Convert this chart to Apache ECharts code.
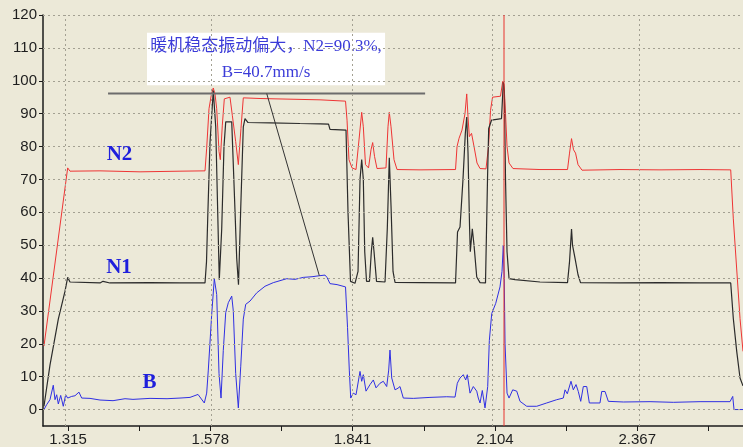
<!DOCTYPE html>
<html>
<head>
<meta charset="utf-8">
<script src="https://cdn.jsdelivr.net/npm/echarts@6/dist/echarts.min.js"></script>
<style>
  html, body { margin: 0; padding: 0; background: #ECE9D8; }
  #chart { width: 743px; height: 447px; }
</style>
</head>
<body>
<div id="chart"></div>
<script>
// Engine run-up record: N2 (%), N1 (%), vibration B (mm/s) against time.
const n2Time = [1.2706, 1.3144, 1.3187, 1.3741, 1.4481, 1.5220, 1.5682, 1.5713, 1.5756, 1.5802,
  1.5835, 1.5867, 1.5898, 1.5941, 1.5965, 1.6002, 1.6039, 1.6144, 1.6187, 1.6249,
  1.6298, 1.6347, 1.6390, 1.6699, 1.7253, 1.7808, 1.8279, 1.8307, 1.8343, 1.8399,
  1.8473, 1.8528, 1.8578, 1.8608, 1.8648, 1.8704, 1.8750, 1.8781, 1.8815, 1.8861,
  1.9027, 1.9064, 1.9088, 1.9120, 1.9175, 1.9231, 1.9656, 2.0312, 2.0340, 2.0377,
  2.0432, 2.0487, 2.0519, 2.0543, 2.0567, 2.0608, 2.0654, 2.0709, 2.0765, 2.0875,
  2.0922, 2.0959, 2.0996, 2.1143, 2.1184, 2.1208, 2.1236, 2.1264, 2.1301, 2.1374,
  2.1873, 2.2382, 2.2419, 2.2456, 2.2493, 2.2530, 2.2576, 2.2650, 2.3352, 2.4091,
  2.4831, 2.5398, 2.5446, 2.5570, 2.5625];
const n2Values = [19.3, 73.5, 72.5, 72.6, 72.3, 72.5, 72.6, 79.5, 91.5, 96,
  97.8, 96, 91.5, 78.5, 76, 86.5, 94.5, 95, 89.5, 81.5,
  74.5, 85.5, 94.8, 94.6, 94.4, 94.2, 93.8, 88, 76, 73.5,
  73, 82, 90.4, 86, 74.5, 73.5, 79, 81.2, 77, 73.3,
  73.5, 86, 90.4, 86, 76, 73, 72.9, 73, 80, 82.5,
  85, 90, 96, 89, 83, 84, 80, 75, 73.3, 73.2,
  80, 91, 95, 95.3, 99.8, 99, 90, 80, 75, 73.3,
  73, 73, 78, 82.4, 79, 78, 74.5, 72.8, 73, 72.9,
  73, 72.9, 58, 27.7, 17.7];

const n1Time = [1.2706, 1.2817, 1.2971, 1.3095, 1.3144, 1.3187, 1.3741, 1.3797, 1.3926, 1.4666,
  1.5220, 1.5682, 1.5710, 1.5732, 1.5774, 1.5835, 1.5880, 1.5917, 1.5946, 1.5991,
  1.6033, 1.6065, 1.6176, 1.6224, 1.6268, 1.6301, 1.6342, 1.6390, 1.6421, 1.6477,
  1.6883, 1.7438, 1.7808, 1.7965, 1.7992, 1.8288, 1.8325, 1.8371, 1.8454, 1.8510,
  1.8547, 1.8578, 1.8608, 1.8634, 1.8667, 1.8722, 1.8756, 1.8781, 1.8806, 1.8852,
  1.9009, 1.9051, 1.9088, 1.9120, 1.9157, 1.9194, 1.9656, 2.0312, 2.0349, 2.0395,
  2.0450, 2.0493, 2.0519, 2.0543, 2.0571, 2.0585, 2.0622, 2.0654, 2.0704, 2.0765,
  2.0866, 2.0903, 2.0925, 2.0977, 2.1162, 2.1195, 2.1214, 2.1236, 2.1264, 2.1301,
  2.1412, 2.1873, 2.2382, 2.2419, 2.2456, 2.2474, 2.2521, 2.2576, 2.2622, 2.3352,
  2.4091, 2.4831, 2.5398, 2.5446, 2.5509, 2.5570, 2.5625];
const n1Values = [1, 13.5, 27.5, 36, 40.2, 38.8, 38.5, 39.0, 38.5, 38.6,
  38.5, 38.5, 45, 58, 81, 97, 86, 60, 39.5, 55,
  80, 87.5, 87.5, 66, 46, 38, 61, 86, 88.5, 87.3,
  87.2, 87.0, 86.9, 86.8, 85.2, 85, 60, 39, 38.4, 42,
  70, 76, 70, 48, 39, 39, 48, 52.4, 48, 39,
  38.8, 55, 76.6, 62, 42, 38.7, 38.6, 38.5, 54, 55.5,
  70, 84, 89, 78, 56, 48, 55, 50, 40.3, 38.6,
  38.5, 70, 85.5, 88, 88.5, 99.5, 97, 70, 48, 39.8,
  39.5, 38.8, 38.6, 45, 54.9, 50, 46, 41, 38.6, 38.5,
  38.6, 38.5, 38.5, 27.7, 17.7, 9.6, 7.2];

const bTime = [1.2706, 1.2756, 1.2817, 1.2878, 1.2910, 1.2941, 1.2971, 1.3015, 1.3063, 1.3107,
  1.3144, 1.3218, 1.3279, 1.3353, 1.3403, 1.3557, 1.3741, 1.3982, 1.4204, 1.4351,
  1.4666, 1.4980, 1.5220, 1.5405, 1.5553, 1.5669, 1.5713, 1.5743, 1.5806, 1.5854,
  1.5898, 1.5941, 1.5978, 1.6020, 1.6065, 1.6113, 1.6176, 1.6205, 1.6249, 1.6298,
  1.6342, 1.6390, 1.6434, 1.6514, 1.6638, 1.6791, 1.6944, 1.7192, 1.7345, 1.7499,
  1.7660, 1.7795, 1.7900, 1.7937, 1.7992, 1.8122, 1.8279, 1.8316, 1.8349, 1.8375,
  1.8423, 1.8473, 1.8547, 1.8578, 1.8608, 1.8658, 1.8732, 1.8793, 1.8843, 1.8916,
  1.8977, 1.9040, 1.9077, 1.9101, 1.9133, 1.9194, 1.9249, 1.9286, 1.9347, 1.9532,
  1.9840, 2.0149, 2.0303, 2.0345, 2.0395, 2.0456, 2.0500, 2.0530, 2.0580, 2.0641,
  2.0704, 2.0733, 2.0765, 2.0807, 2.0857, 2.0907, 2.0937, 2.0981, 2.1055, 2.1134,
  2.1171, 2.1195, 2.1212, 2.1227, 2.1264, 2.1301, 2.1369, 2.1443, 2.1504, 2.1628,
  2.1813, 2.1997, 2.2182, 2.2304, 2.2336, 2.2378, 2.2446, 2.2489, 2.2539, 2.2581,
  2.2626, 2.2674, 2.2737, 2.2785, 2.2982, 2.3014, 2.3075, 2.3136, 2.3413, 2.3907,
  2.4337, 2.4831, 2.5385, 2.5435, 2.5459, 2.5625];
const bValues = [0, 1.5, 3, 7.4, 3, 4.5, 1.7, 4.3, 1, 4.5,
  3.5, 4, 4.2, 5.3, 3.5, 3.4, 2.9, 2.7, 3.3, 3.1,
  3.4, 3.3, 3.5, 3.7, 4.6, 2, 5, 12, 29, 39.8,
  35, 11, 3.5, 18, 29.5, 32.5, 34.5, 30, 11, 0.5,
  13, 27.5, 32, 33, 35.5, 37.5, 38.6, 39.8, 39.6, 40.2,
  40.4, 40.7, 40.9, 40.2, 38.3, 38, 37.3, 25, 12, 3.5,
  5, 4.5, 11.6, 8.6, 10.6, 5.6, 7.6, 9, 6.6, 8,
  8.6, 7, 12, 18.1, 9.6, 6, 6.5, 7, 3.5, 3.4,
  3.7, 3.9, 3.8, 8, 9.6, 10.6, 9, 10.6, 5, 7,
  5.6, 3.5, 2, 5.8, 0.5, 7, 21, 29.2, 32.3, 37.3,
  42, 50, 40, 20, 5, 3.5, 6, 5.6, 2.5, 1,
  1, 2, 3, 3.5, 6, 4.8, 8.6, 6, 7.6, 5.5,
  2.5, 7, 7, 2, 2, 5.5, 5.5, 2.5, 2.3, 2.4,
  2.2, 2.4, 2.4, 4, 0, 0];

// Axis ticks
const xLabelValues = [1.315, 1.578, 1.841, 2.104, 2.367];
const xTickValues = [1.315, 1.4465, 1.578, 1.7095, 1.841, 1.9725, 2.104, 2.2355, 2.367, 2.4985];
const yTickValues = [0, 10, 20, 30, 40, 50, 60, 70, 80, 90, 100, 110, 120];

// Cursor time and the note about the steady warm-up vibration
const cursorTime = 2.1208;
const noteLines = ['暖机稳态振动偏大，N2=90.3%,', 'B=40.7mm/s'];
const noteB = 40.7;

const Y_MIN = -5, Y_MAX = 120;
const zip = (t, v) => t.map((x, i) => [x, v[i]]);
const serif = '"Liberation Serif", "Times New Roman", "Noto Sans CJK SC", serif';
const sans = '"Liberation Sans", Arial, sans-serif';
const gridLine = { color: '#a3a092', type: [2, 3], width: 1 };
const axisInk = '#1b1b1b';

function tag(text, at) {
  return {
    silent: true,
    symbol: 'circle',
    symbolSize: 0,
    label: {
      show: true, position: 'inside', formatter: text,
      color: '#1f1fdc', fontFamily: serif, fontWeight: 'bold', fontSize: 21
    },
    data: [{ coord: at }]
  };
}

function trace(name, t, v, color, width, label, at) {
  return {
    name, type: 'line', data: zip(t, v), showSymbol: false, symbol: 'none',
    lineStyle: { color, width }, itemStyle: { color }, z: 3, silent: true,
    markPoint: tag(label, at)
  };
}

const chart = echarts.init(document.getElementById('chart'));
chart.setOption({
  animation: false,
  backgroundColor: '#ECE9D8',
  grid: { left: 43, right: 0, top: 15, bottom: 19 },
  xAxis: {
    type: 'value', min: 1.2688, max: 2.5625,
    axisLine: { show: true, onZero: false, lineStyle: { color: axisInk, width: 1.5 } },
    axisTick: { show: true, customValues: xTickValues, length: 5, lineStyle: { color: axisInk } },
    axisLabel: {
      customValues: xLabelValues, formatter: v => v.toFixed(3),
      color: '#1e1e1e', fontSize: 15, fontFamily: sans, margin: 6
    },
    splitLine: { show: false }
  },
  yAxis: {
    type: 'value', min: Y_MIN, max: Y_MAX,
    axisLine: { show: true, onZero: false, lineStyle: { color: axisInk, width: 1.5 } },
    axisTick: { show: true, customValues: yTickValues, length: 4, lineStyle: { color: axisInk } },
    axisLabel: {
      customValues: yTickValues, color: '#1e1e1e', fontSize: 15, fontFamily: sans, margin: 6
    },
    splitLine: { show: false }
  },
  series: [
    {
      name: 'grid', type: 'line', data: [], z: 1, silent: true,
      markLine: {
        silent: true, symbol: ['none', 'none'], label: { show: false }, lineStyle: gridLine,
        data: yTickValues.map(v => ({ yAxis: v })).concat(xLabelValues.map(v => ({ xAxis: v })))
      }
    },
    trace('N2', n2Time, n2Values, '#ee3434', 1, 'N2', [1.4102, 77.6]),
    trace('N1', n1Time, n1Values, '#2b2b2b', 1.2, 'N1', [1.4093, 43.2]),
    trace('B', bTime, bValues, '#2f2fe2', 1, 'B', [1.4656, 8.1]),
    {
      name: 'note', type: 'line', data: [], z: 5, silent: true,
      markArea: {
        silent: true,
        itemStyle: { color: '#ffffff' },
        label: {
          show: true, position: 'inside', formatter: noteLines.join('\n'),
          color: '#3b3bd8', fontFamily: serif, fontSize: 17, lineHeight: 26, align: 'center'
        },
        data: [[{ coord: [1.461, 114.6] }, { coord: [1.901, 98.6] }]]
      }
    },
    {
      name: 'rule', type: 'line', z: 4, silent: true, symbol: 'none',
      data: [[1.389, 96.1], [1.975, 96.1]],
      lineStyle: { color: '#6c6c6c', width: 2 }
    },
    {
      name: 'pointer', type: 'line', z: 4, silent: true, symbol: 'none',
      data: [[1.6823, 96.1], [1.7795, noteB]],
      lineStyle: { color: '#333333', width: 1 }
    },
    {
      name: 'cursor', type: 'line', z: 8, silent: true, symbol: 'none',
      data: [[cursorTime, Y_MIN], [cursorTime, Y_MAX]],
      lineStyle: { color: '#e8322f', width: 1 }, itemStyle: { color: '#e8322f' }
    }
  ]
});
</script>
</body>
</html>
